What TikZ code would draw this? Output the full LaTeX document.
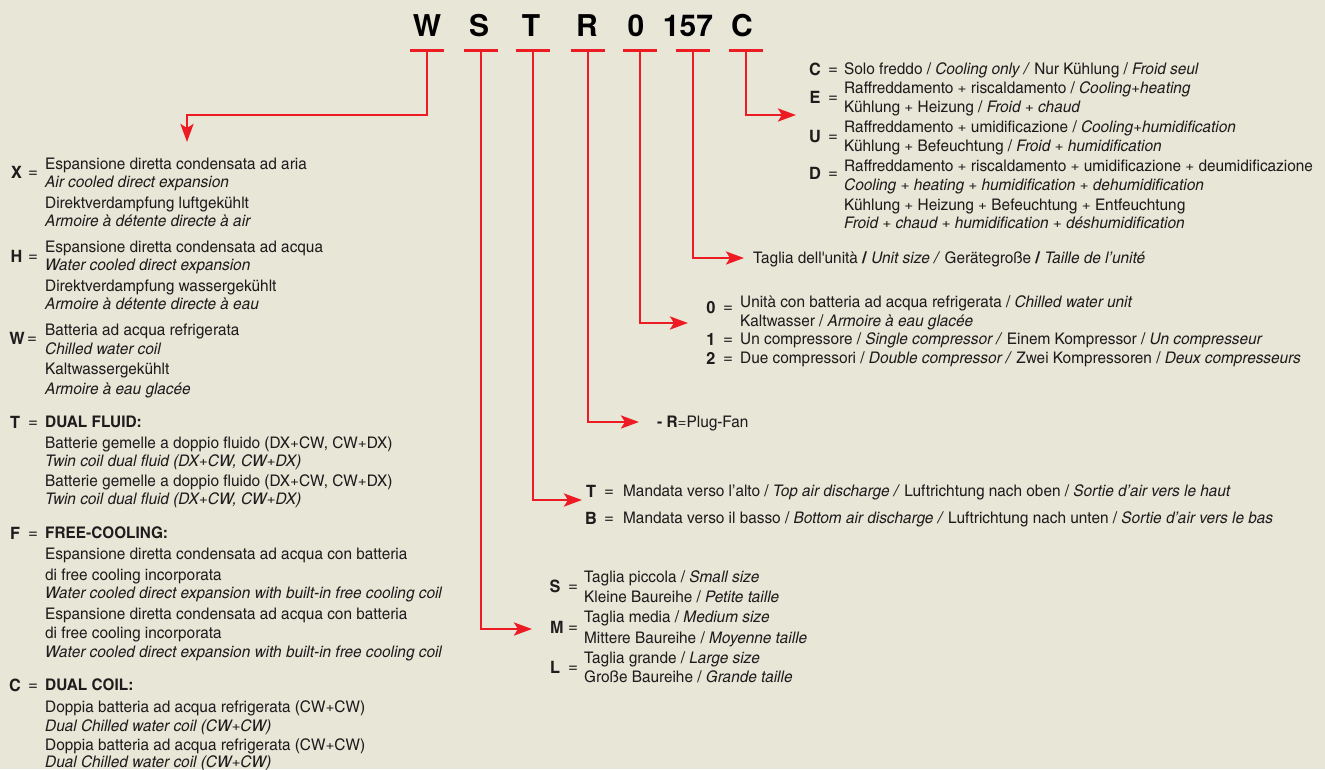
\documentclass[tikz,border=0pt]{standalone}
\usepackage{fontspec}
\usetikzlibrary{arrows.meta}
\newfontfamily\cnfont{texgyreheroscn}[Extension=.otf, UprightFont=*-regular, BoldFont=*-bold, ItalicFont=*-italic, BoldItalicFont=*-bolditalic, FakeStretch=1.17]
\newfontfamily\titlefont{TeX Gyre Heros}
\definecolor{bgc}{RGB}{232,230,215}
\definecolor{ared}{RGB}{237,28,36}
\definecolor{ink}{RGB}{30,28,28}
\tikzset{
  txt/.style={anchor=base west, inner sep=0pt, text=ink, font=\cnfont\fontsize{16}{18}\selectfont},
  keyl/.style={anchor=base, inner sep=0pt, text=ink, font=\cnfont\bfseries\fontsize{17}{18}\selectfont},
  eqs/.style={anchor=base, inner sep=0pt, text=ink, font=\titlefont\fontsize{17}{18}\selectfont},
  ttl/.style={anchor=base, inner sep=0pt, text=black, font=\titlefont\bfseries\fontsize{30}{32}\selectfont},
  bar/.style={fill=ared, draw=none, inner sep=0pt, minimum width=34pt, minimum height=3pt},
  conn/.style={draw=ared, line width=2.8pt, -{Stealth[length=18pt,width=13pt,inset=4pt]}}
}
\newcommand\tl[4]{\node[txt] (#1) at (#2,#3+5.5) {#4};}
\newcommand\kl[4]{\node[keyl] (#1) at (#2,#3+6) {#4};}
\newcommand\eq[3]{\node[eqs] (#1) at (#2,#3+5) {=};}
\begin{document}
\begin{tikzpicture}[x=1pt,y=-1pt]
\fill[bgc] (0,0) rectangle (1325,769);
\useasboundingbox (0,0) rectangle (1325,769);
% title
\node[ttl] (tW) at (427,36) {W};
\node[ttl] (tS) at (479,36) {S};
\node[ttl] (tT) at (531,36) {T};
\node[ttl] (tR) at (587,36) {R};
\node[ttl] (t0) at (636,36) {0};
\node[ttl] (t157) at (688,36) {157};
\node[ttl] (tC) at (742,36) {C};
% bars
\node[bar] (bW) at (427,50) {};
\node[bar] (bS) at (481,50) {};
\node[bar] (bT) at (533,50) {};
\node[bar] (bR) at (588,50) {};
\node[bar] (b0) at (640,50) {};
\node[bar] (b157) at (693,50) {};
\node[bar] (bC) at (746,50) {};
% arrow targets
\coordinate (aX) at (187,142);
\coordinate (aS) at (532,629);
\coordinate (aT) at (582,500);
\coordinate (aR) at (639,422);
\coordinate (a0) at (688,323);
\coordinate (a157) at (744,258);
\coordinate (aC) at (796,115);
\draw[conn] (bW.center) -- ++(0,65) -| (aX);
\draw[conn] (bS.center) |- (aS);
\draw[conn] (bT.center) |- (aT);
\draw[conn] (bR.center) |- (aR);
\draw[conn] (b0.center) |- (a0);
\draw[conn] (b157.center) |- (a157);
\draw[conn] (bC.center) |- (aC);
% C block
\kl{kC}{815}{69}{C}\eq{eC}{833}{69}
\tl{c1}{844}{69}{Solo freddo / \textit{Cooling only /} Nur Kühlung / \textit{Froid seul}}
\kl{kE}{815}{97}{E}\eq{eE}{833}{97}
\tl{e1}{844}{88}{Raffreddamento + riscaldamento / \textit{Cooling+heating}}
\tl{e2}{844}{107}{Kühlung + Heizung / \textit{Froid + chaud}}
\kl{kU}{815}{136}{U}\eq{eU}{833}{136}
\tl{u1}{844}{127}{Raffreddamento + umidificazione / \textit{Cooling+humidification}}
\tl{u2}{844}{146}{Kühlung + Befeuchtung / \textit{Froid + humidification}}
\kl{kD}{815}{173}{D}\eq{eD}{833}{173}
\tl{d1}{844}{166}{Raffreddamento + riscaldamento + umidificazione + deumidificazione}
\tl{d2}{844}{185}{\textit{Cooling + heating + humidification + dehumidification}}
\tl{d3}{844}{205}{Kühlung + Heizung + Befeuchtung + Entfeuchtung}
\tl{d4}{844}{223}{\textit{Froid + chaud + humidification + déshumidification}}
% size
\tl{sz}{753}{258}{Taglia dell'unità \textbf{/} \textit{Unit size /} Gerätegroße \textbf{/} \textit{Taille de l’unité}}
% 0 block
\kl{k0}{711}{307}{0}\eq{e0}{728}{307}
\tl{z1}{740}{302}{Unità con batteria ad acqua refrigerata / \textit{Chilled water unit}}
\tl{z2}{740}{321}{Kaltwasser / \textit{Armoire à eau glacée}}
\kl{k1}{711}{339}{1}\eq{e1}{728}{339}
\tl{o1}{740}{339}{Un compressore / \textit{Single compressor /} Einem Kompressor / \textit{Un compresseur}}
\kl{k2}{711}{358}{2}\eq{e2}{728}{358}
\tl{w1}{740}{358}{Due compressori / \textit{Double compressor /} Zwei Kompressoren / \textit{Deux compresseurs}}
% R
\tl{rf}{657}{422}{\textbf{- R}=Plug-Fan}
% T / B
\kl{kT}{591}{491}{T}\eq{eT}{609}{491}
\tl{t1}{623}{491}{Mandata verso l’alto / \textit{Top air discharge /} Luftrichtung nach oben / \textit{Sortie d’air vers le haut}}
\kl{kB}{591}{518}{B}\eq{eB}{609}{518}
\tl{b1}{623}{518}{Mandata verso il basso / \textit{Bottom air discharge /} Luftrichtung nach unten / \textit{Sortie d’air vers le bas}}
% S M L
\kl{kS}{555}{586}{S}\eq{eS}{573}{586}
\tl{s1}{584}{577}{Taglia piccola / \textit{Small size}}
\tl{s2}{584}{597}{Kleine Baureihe / \textit{Petite taille}}
\kl{kM}{557}{627}{M}\eq{eM}{573}{627}
\tl{m1}{584}{617}{Taglia media / \textit{Medium size}}
\tl{m2}{584}{638}{Mittere Baureihe / \textit{Moyenne taille}}
\kl{kL}{555}{667}{L}\eq{eL}{573}{667}
\tl{l1}{584}{658}{Taglia grande / \textit{Large size}}
\tl{l2}{584}{677}{Große Baureihe / \textit{Grande taille}}
% left column
\kl{kX}{16.5}{172}{X}\eq{eX}{33}{172}
\tl{x1}{45}{164}{Espansione diretta condensata ad aria}
\tl{x2}{45}{182}{\textit{Air cooled direct expansion}}
\tl{x3}{45}{203}{Direktverdampfung luftgekühlt}
\tl{x4}{45}{221}{\textit{Armoire à détente directe à air}}
\kl{kH}{16.5}{256}{H}\eq{eH}{33}{256}
\tl{h1}{45}{247}{Espansione diretta condensata ad acqua}
\tl{h2}{45}{265}{\textit{Water cooled direct expansion}}
\tl{h3}{45}{286}{Direktverdampfung wassergekühlt}
\tl{h4}{45}{304}{\textit{Armoire à détente directe à eau}}
\kl{kW}{17}{338}{W}\eq{eW}{32}{338}
\tl{wa}{45}{330}{Batteria ad acqua refrigerata}
\tl{wb}{45}{349}{\textit{Chilled water coil}}
\tl{wc}{45}{369}{Kaltwassergekühlt}
\tl{wd}{45}{389}{\textit{Armoire à eau glacée}}
\kl{kTl}{15}{422}{T}\eq{eTl}{33}{422}
\tl{ta}{45}{422}{\textbf{DUAL FLUID:}}
\tl{tb}{45}{443}{Batterie gemelle a doppio fluido (DX+CW, CW+DX)}
\tl{tc}{45}{461}{\textit{Twin coil dual fluid (DX+CW, CW+DX)}}
\tl{td}{45}{481}{Batterie gemelle a doppio fluido (DX+CW, CW+DX)}
\tl{te}{45}{499}{\textit{Twin coil dual fluid (DX+CW, CW+DX)}}
\kl{kF}{15}{533}{F}\eq{eF}{33}{533}
\tl{fa}{45}{533}{\textbf{FREE-COOLING:}}
\tl{fb}{45}{554}{Espansione diretta condensata ad acqua con batteria}
\tl{fc}{45}{575}{di free cooling incorporata}
\tl{fd}{45}{593}{\textit{Water cooled direct expansion with built-in free cooling coil}}
\tl{fe}{45}{614}{Espansione diretta condensata ad acqua con batteria}
\tl{ff}{45}{633}{di free cooling incorporata}
\tl{fg}{45}{652}{\textit{Water cooled direct expansion with built-in free cooling coil}}
\kl{kCl}{15}{685}{C}\eq{eCl}{33}{685}
\tl{ca}{45}{685}{\textbf{DUAL COIL:}}
\tl{cb}{45}{707}{Doppia batteria ad acqua refrigerata (CW+CW)}
\tl{cc}{45}{726}{\textit{Dual Chilled water coil (CW+CW)}}
\tl{cd}{45}{745}{Doppia batteria ad acqua refrigerata (CW+CW)}
\tl{ce}{45}{762}{\textit{Dual Chilled water coil (CW+CW)}}
\end{tikzpicture}
\end{document}
